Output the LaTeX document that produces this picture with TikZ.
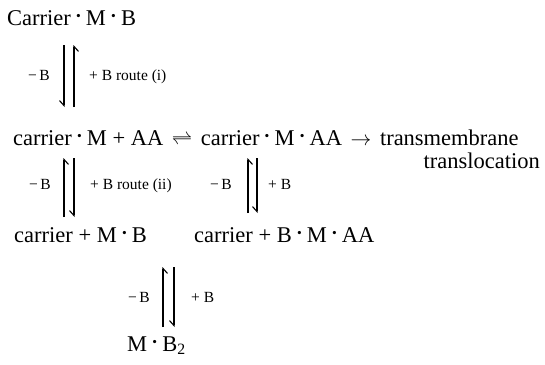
\documentclass[tikz,border=0pt]{standalone}
\usepackage{fontspec}
\setmainfont{Liberation Serif}
\usetikzlibrary{arrows.meta}
\newcommand\dotop{\hspace{0.23em}\raisebox{0.2em}{\scalebox{0.6}{•}}\hspace{0.23em}}
\newcommand\wsp{\hspace{0.38em}}
\tikzset{
  main/.style={font=\fontsize{22.5}{26}\selectfont, inner sep=0pt, anchor=base west},
  lbl/.style={font=\fontsize{15.5}{18}\selectfont, inner sep=0pt},
  lblL/.style={lbl, anchor=base east},
  lblR/.style={lbl, anchor=base west},
  harp/.style={line width=1.1pt, -{Straight Barb[harpoon, swap, length=5pt, width=9pt]}},
}
\begin{document}
\begin{tikzpicture}[x=1pt,y=-1pt]
\useasboundingbox (0,0) rectangle (545,364);
% species
\node[main] (r1) at (7,25) {Carrier\dotop M\dotop B};
\node[main] (r2) at (13,145) {carrier\dotop M + AA\wsp$\rightleftharpoons$\wsp carrier\dotop M\dotop AA\wsp$\rightarrow$\wsp transmembrane};
\node[main, anchor=base east] (tl) at (540,168) {translocation};
\node[main] (r3a) at (14,242) {carrier + M\dotop B};
\node[main] (r3b) at (194,242) {carrier + B\dotop M\dotop AA};
\node[main] (r4) at (127,351) {M\dotop B\textsubscript{2}};
% arrow end points
\coordinate (a1) at (64,45);  \coordinate (a2) at (64,107);
\coordinate (b1) at (74,45);  \coordinate (b2) at (74,107);
\coordinate (c1) at (64,158); \coordinate (c2) at (64,217);
\coordinate (d1) at (74,158); \coordinate (d2) at (74,217);
\coordinate (e1) at (248,158); \coordinate (e2) at (248,213);
\coordinate (f1) at (257,158); \coordinate (f2) at (257,213);
\coordinate (g1) at (163,267); \coordinate (g2) at (163,327);
\coordinate (h1) at (174,267); \coordinate (h2) at (174,327);
% arrows
\draw[harp] (a1) -- (a2);
\draw[harp] (b2) -- (b1);
\draw[harp] (c2) -- (c1);
\draw[harp] (d1) -- (d2);
\draw[harp] (e2) -- (e1);
\draw[harp] (f1) -- (f2);
\draw[harp] (g2) -- (g1);
\draw[harp] (h1) -- (h2);
% labels
\node[lblL] (l1) at (50,80) {−\,B};
\node[lblR] (l2) at (89,80) {+ B route (i)};
\node[lblL] (l3) at (51,189) {−\,B};
\node[lblR] (l4) at (90,189) {+ B route (ii)};
\node[lblL] (l5) at (232,189) {−\,B};
\node[lblR] (l6) at (268,189) {+ B};
\node[lblL] (l7) at (150,302) {−\,B};
\node[lblR] (l8) at (191,302) {+ B};
\end{tikzpicture}
\end{document}
